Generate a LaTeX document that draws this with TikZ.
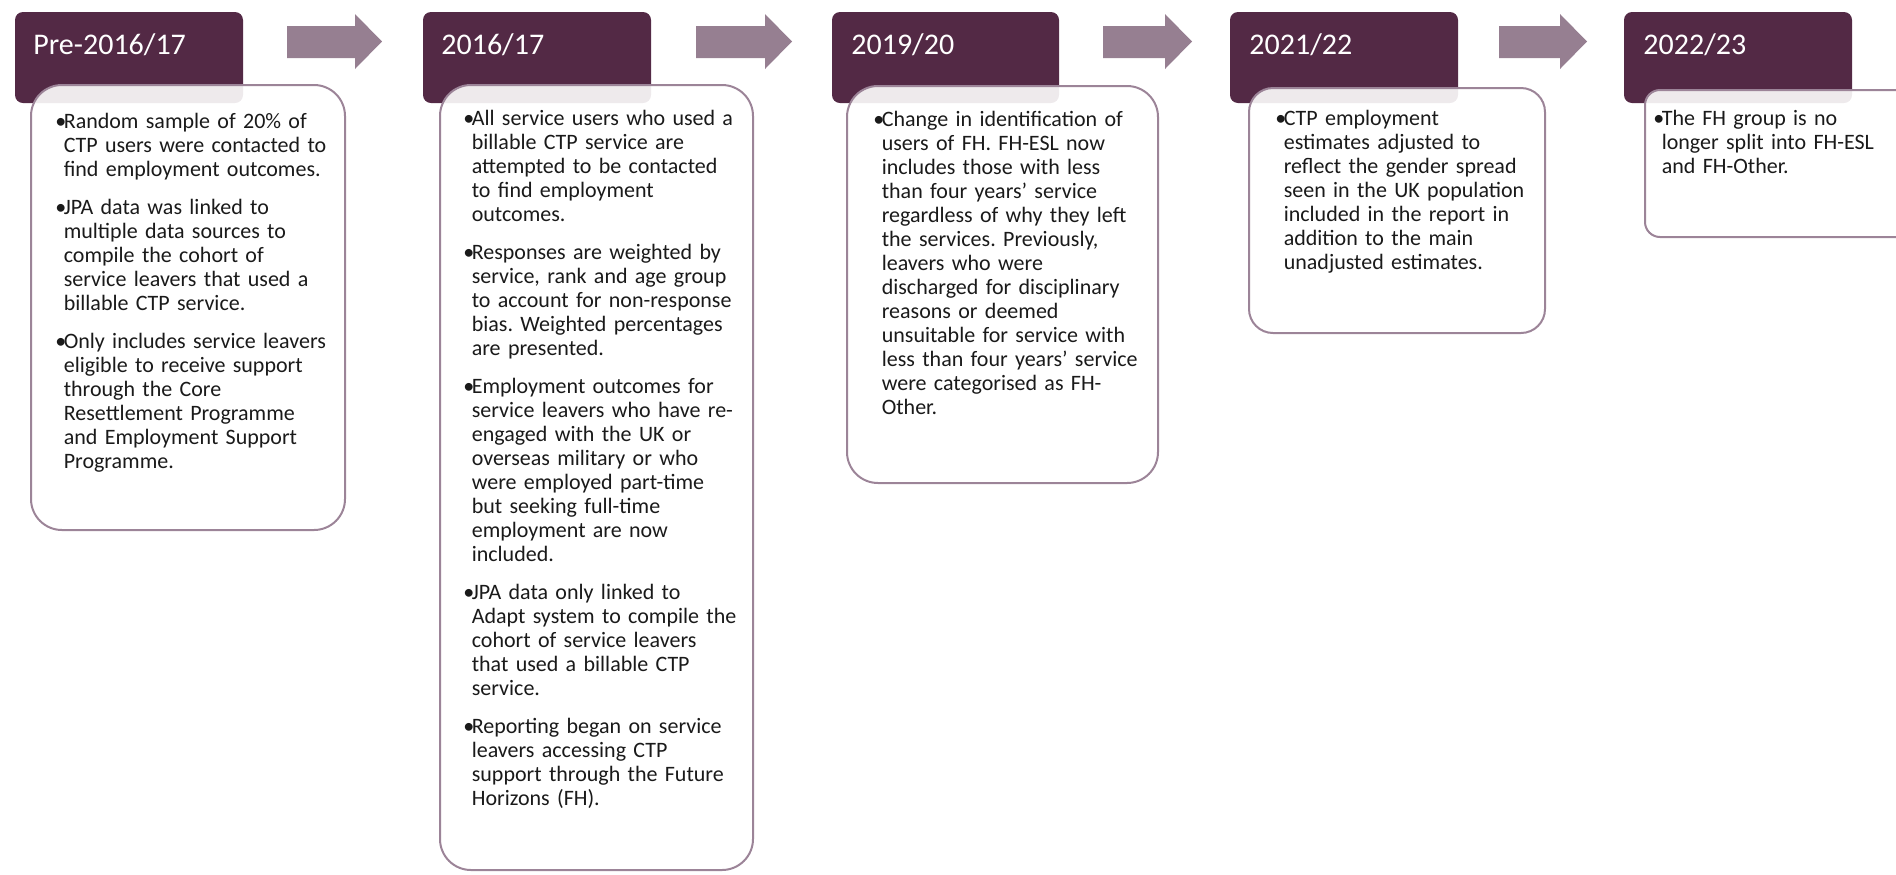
\documentclass[tikz,border=0pt]{standalone}
\usepackage{fontspec}
\setmainfont{Carlito}
\definecolor{plum}{HTML}{532945}
\definecolor{arrowc}{HTML}{967F91}
\definecolor{edgec}{HTML}{9C8498}
\definecolor{txt}{HTML}{1A1A1A}
\frenchspacing
\newcommand{\bfirst}[1]{\strut\makebox[4.2pt][l]{\textbullet}#1}
\newcommand{\bcont}[1]{\strut\hspace*{4.2pt}#1}
\tikzset{
  header/.style={fill=plum, rounded corners=4pt},
  card/.style={draw=edgec, line width=1pt, fill=white, fill opacity=0.9, draw opacity=1},
  arrowshape/.style={fill=arrowc},
  yeartext/.style={anchor=base west, text=white, inner sep=0pt, font=\fontsize{15pt}{18pt}\selectfont},
  bodytext/.style={anchor=north west, inner sep=0pt, text width=160pt, align=left, text=txt, font=\fontsize{11pt}{12pt}\selectfont\frenchspacing}
}
\begin{document}
\begin{tikzpicture}[x=0.5pt,y=-0.5pt]
\useasboundingbox (0,0) rectangle (1896,874);
\clip (0,0) rectangle (1896,874);
% headers
\path[header] (15,12) rectangle (243,103);
\path[header] (423,12) rectangle (651,103);
\path[header] (832,12) rectangle (1059,103);
\path[header] (1230,12) rectangle (1458,103);
\path[header] (1624,12) rectangle (1852,103);
% cards
\path[card, rounded corners=15.5pt] (31,85) rectangle (345,530);
\path[card, rounded corners=15.5pt] (440,85) rectangle (753,870);
\path[card, rounded corners=15.5pt] (847,86) rectangle (1158,483);
\path[card, rounded corners=12pt] (1249,88) rectangle (1545,333);
\path[card, rounded corners=7.5pt] (1645,90) rectangle (1960,237);
% arrows
\fill[arrowshape] (287,26) -- (355,26) -- (355,14) -- (382,41.5) -- (355,69) -- (355,58) -- (287,58) -- cycle;
\fill[arrowshape] (696,26) -- (765,26) -- (765,14) -- (792,41.5) -- (765,69) -- (765,58) -- (696,58) -- cycle;
\fill[arrowshape] (1103,26) -- (1165,26) -- (1165,14) -- (1192,41.5) -- (1165,69) -- (1165,58) -- (1103,58) -- cycle;
\fill[arrowshape] (1499,26) -- (1560,26) -- (1560,14) -- (1587,41.5) -- (1560,69) -- (1560,58) -- (1499,58) -- cycle;
% year labels
\node[yeartext] (y1) at (33,54) {Pre-2016/17};
\node[yeartext] (y2) at (441,54) {2016/17};
\node[yeartext] (y3) at (851,54) {2019/20};
\node[yeartext] (y4) at (1249,54) {2021/22};
\node[yeartext] (y5) at (1643,54) {2022/23};
% body texts
\node[bodytext] (t1) at (55,111.2) {%
\bfirst{Random sample of 20\% of}\\
\bcont{CTP users were contacted to}\\
\bcont{find employment outcomes.}\\[7pt]
\bfirst{JPA data was linked to}\\
\bcont{multiple data sources to}\\
\bcont{compile the cohort of}\\
\bcont{service leavers that used a}\\
\bcont{billable CTP service.}\\[7pt]
\bfirst{Only includes service leavers}\\
\bcont{eligible to receive support}\\
\bcont{through the Core}\\
\bcont{Resettlement Programme}\\
\bcont{and Employment Support}\\
\bcont{Programme.}};
\node[bodytext] (t2) at (463,108.2) {%
\bfirst{All service users who used a}\\
\bcont{billable CTP service are}\\
\bcont{attempted to be contacted}\\
\bcont{to find employment}\\
\bcont{outcomes.}\\[7pt]
\bfirst{Responses are weighted by}\\
\bcont{service, rank and age group}\\
\bcont{to account for non-response}\\
\bcont{bias. Weighted percentages}\\
\bcont{are presented.}\\[7pt]
\bfirst{Employment outcomes for}\\
\bcont{service leavers who have re-}\\
\bcont{engaged with the UK or}\\
\bcont{overseas military or who}\\
\bcont{were employed part-time}\\
\bcont{but seeking full-time}\\
\bcont{employment are now}\\
\bcont{included.}\\[7pt]
\bfirst{JPA data only linked to}\\
\bcont{Adapt system to compile the}\\
\bcont{cohort of service leavers}\\
\bcont{that used a billable CTP}\\
\bcont{service.}\\[7pt]
\bfirst{Reporting began on service}\\
\bcont{leavers accessing CTP}\\
\bcont{support through the Future}\\
\bcont{Horizons (FH).}};
\node[bodytext] (t3) at (873,109.2) {%
\bfirst{Change in identification of}\\
\bcont{users of FH. FH-ESL now}\\
\bcont{includes those with less}\\
\bcont{than four years’ service}\\
\bcont{regardless of why they left}\\
\bcont{the services. Previously,}\\
\bcont{leavers who were}\\
\bcont{discharged for disciplinary}\\
\bcont{reasons or deemed}\\
\bcont{unsuitable for service with}\\
\bcont{less than four years’ service}\\
\bcont{were categorised as FH-}\\
\bcont{Other.}};
\node[bodytext] (t4) at (1275,108.2) {%
\bfirst{CTP employment}\\
\bcont{estimates adjusted to}\\
\bcont{reflect the gender spread}\\
\bcont{seen in the UK population}\\
\bcont{included in the report in}\\
\bcont{addition to the main}\\
\bcont{unadjusted estimates.}};
\node[bodytext] (t5) at (1653,108.2) {%
\bfirst{The FH group is no}\\
\bcont{longer split into FH-ESL}\\
\bcont{and FH-Other.}};
\end{tikzpicture}
\end{document}
